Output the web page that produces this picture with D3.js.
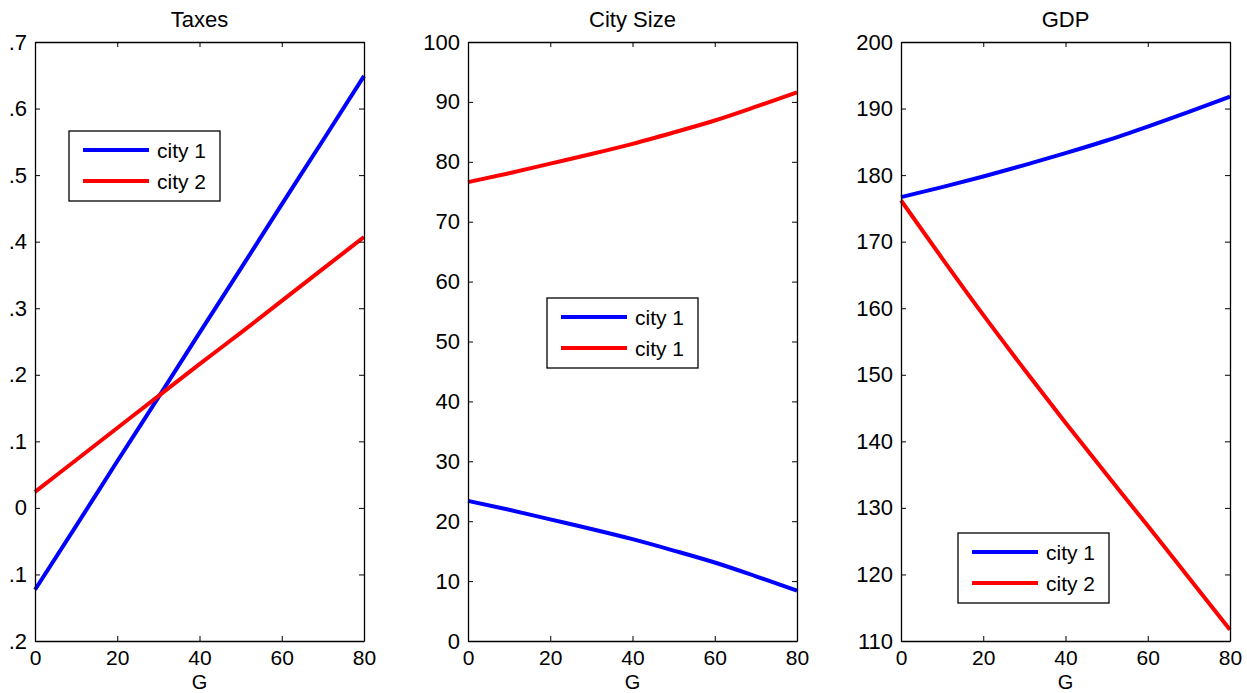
<!DOCTYPE html>
<html>
<head>
    <title>Taxes, City Size, GDP</title>
    <script src="https://d3js.org/d3.v7.min.js"></script>
    <style>
        body { margin: 0; background: white; }
        text { font-family: "Liberation Sans", Arial, sans-serif; fill: black; }
    </style>
</head>
<body>
    <svg width="1247" height="693"></svg>
    <script>
        // G values on the x axis
        const gValues = [0, 10, 20, 30, 40, 50, 60, 70, 80]
        const xTicks = [0, 20, 40, 60, 80]

        // Taxes
        const taxesCity1 = [-0.123, -0.027, 0.070, 0.166, 0.263, 0.359, 0.456, 0.552, 0.649]
        const taxesCity2 = [0.024, 0.072, 0.120, 0.168, 0.216, 0.263, 0.311, 0.359, 0.407]
        const taxesTicks = [-0.2, -0.1, 0, 0.1, 0.2, 0.3, 0.4, 0.5, 0.6, 0.7]
        const taxesTickLabels = [".2", ".1", "0", ".1", ".2", ".3", ".4", ".5", ".6", ".7"]

        // City size
        const sizeCity1 = [23.4, 21.9, 20.3, 18.7, 17.0, 15.1, 13.1, 10.8, 8.4]
        const sizeCity2 = [76.6, 78.1, 79.7, 81.3, 83.0, 84.9, 86.9, 89.2, 91.6]
        const sizeTicks = [0, 10, 20, 30, 40, 50, 60, 70, 80, 90, 100]

        // GDP
        const gdpCity1 = [176.7, 178.2, 179.8, 181.5, 183.3, 185.2, 187.3, 189.5, 191.8]
        const gdpCity2 = [176.2, 167.5, 159.0, 150.8, 142.8, 135.0, 127.3, 119.5, 111.7]
        const gdpTicks = [110, 120, 130, 140, 150, 160, 170, 180, 190, 200]

        const panels = [
            { title: "Taxes", left: 35, domain: [-0.2, 0.7], ticks: taxesTicks, labels: taxesTickLabels,
              series: [taxesCity1, taxesCity2], names: ["city 1", "city 2"], legend: [34, 131] },
            { title: "City Size", left: 468, domain: [0, 100], ticks: sizeTicks, labels: sizeTicks.map(String),
              series: [sizeCity1, sizeCity2], names: ["city 1", "city 1"], legend: [79, 298] },
            { title: "GDP", left: 901, domain: [110, 200], ticks: gdpTicks, labels: gdpTicks.map(String),
              series: [gdpCity1, gdpCity2], names: ["city 1", "city 2"], legend: [57, 533] }
        ]

        const colors = ["#0000ff", "#ff0000"]
        const plotW = 329
        const plotTop = 42
        const plotBottom = 641

        const svg = d3.select("svg")

        panels.forEach(function(p) {
            const x = d3.scaleLinear([0, 80], [p.left, p.left + plotW])
            const y = d3.scaleLinear(p.domain, [plotBottom, plotTop])

            const g = svg.append("g")

            // series lines
            const line = d3.line()
                .x(function(d, i) { return x(gValues[i]) })
                .y(function(d) { return y(d) })
                .curve(d3.curveMonotoneX)

            p.series.forEach(function(s, i) {
                g.append("path")
                    .datum(s)
                    .attr("d", line)
                    .attr("fill", "none")
                    .attr("stroke", colors[i])
                    .attr("stroke-width", 4)
            })

            // axes: ticks point inward, on all four sides
            const fmt = function(d, i) { return p.labels[i] }
            const xAxis = g.append("g")
                .attr("transform", "translate(0," + plotBottom + ")")
                .call(d3.axisBottom(x).tickValues(xTicks).tickSizeInner(-5).tickSizeOuter(0).tickPadding(9))
            g.append("g")
                .attr("transform", "translate(0," + plotTop + ")")
                .call(d3.axisTop(x).tickValues(xTicks).tickSizeInner(-5).tickSizeOuter(0).tickFormat(""))
            const yAxis = g.append("g")
                .attr("transform", "translate(" + p.left + ",0)")
                .call(d3.axisLeft(y).tickValues(p.ticks).tickSizeInner(-5).tickSizeOuter(0).tickPadding(8).tickFormat(fmt))
            g.append("g")
                .attr("transform", "translate(" + (p.left + plotW) + ",0)")
                .call(d3.axisRight(y).tickValues(p.ticks).tickSizeInner(-5).tickSizeOuter(0).tickFormat(""))

            g.selectAll(".domain").attr("stroke", "black").attr("stroke-width", 1.3)
            g.selectAll(".tick line").attr("stroke", "black")
            yAxis.selectAll(".tick text")
                .style("font-family", "'Liberation Sans', Arial, sans-serif")
                .style("font-size", "22px")
                .attr("fill", "black")
            xAxis.selectAll(".tick text")
                .style("font-family", "'Liberation Sans', Arial, sans-serif")
                .style("font-size", "21px")
                .attr("fill", "black")

            // title and x label
            g.append("text")
                .attr("x", p.left + plotW / 2)
                .attr("y", 27)
                .attr("text-anchor", "middle")
                .style("font-size", "22px")
                .text(p.title)
            g.append("text")
                .attr("x", p.left + plotW / 2)
                .attr("y", 689)
                .attr("text-anchor", "middle")
                .style("font-size", "20px")
                .text("G")

            // legend
            const lg = g.append("g")
                .attr("transform", "translate(" + (p.left + p.legend[0]) + "," + p.legend[1] + ")")
            lg.append("rect")
                .attr("width", 151)
                .attr("height", 70)
                .attr("fill", "white")
                .attr("stroke", "black")
                .attr("stroke-width", 1.3)
            p.names.forEach(function(n, i) {
                const ly = 19 + i * 31
                lg.append("line")
                    .attr("x1", 14).attr("x2", 80)
                    .attr("y1", ly).attr("y2", ly)
                    .attr("stroke", colors[i])
                    .attr("stroke-width", 4)
                lg.append("text")
                    .attr("x", 88)
                    .attr("y", ly + 8)
                    .style("font-size", "21px")
                    .text(n)
            })
        })
    </script>
</body>
</html>
